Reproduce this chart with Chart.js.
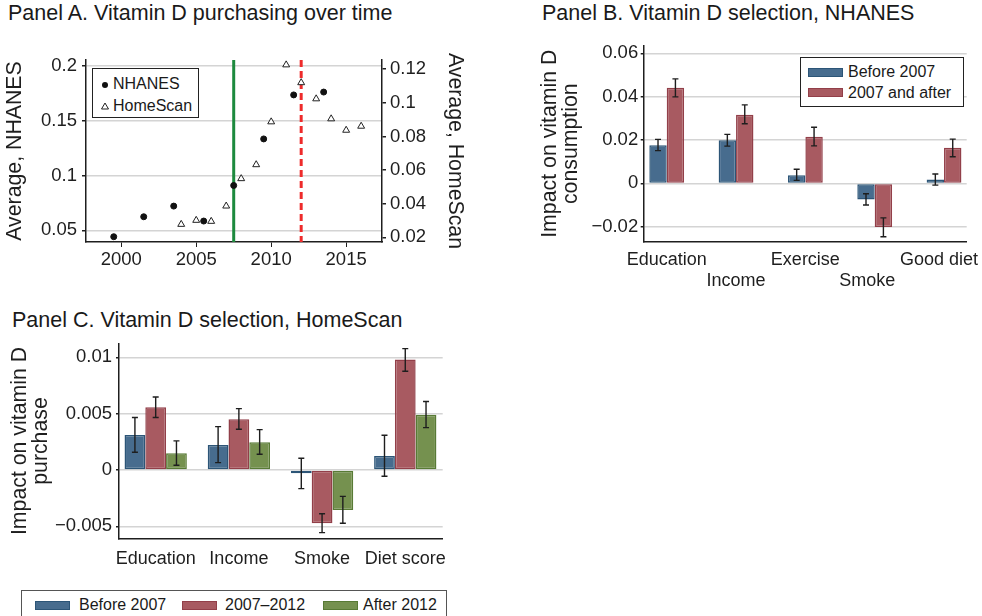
<!DOCTYPE html>
<html>
<head>
<meta charset="utf-8">
<script src="https://cdn.jsdelivr.net/npm/chart.js@4.4.1/dist/chart.umd.min.js"></script>
<style>
  body { margin: 0; background: #fff; font-family: "Liberation Sans", Arial, sans-serif; color: #1a1a1a; }
  #page { position: relative; width: 982px; height: 616px; overflow: hidden; }
  canvas { position: absolute; }
  .ptitle { position: absolute; font-size: 21.5px; line-height: 21.5px; white-space: nowrap; }
  .lgd { position: absolute; background: #fff; font-size: 16px; white-space: nowrap; }
  .lgd .item { position: absolute; line-height: 16px; }
  .lgd .sw { position: absolute; box-sizing: border-box; border: 1.5px solid; }
</style>
</head>
<body>
<div id="page">
  <div class="ptitle" style="left:8px;top:3px;">Panel A. Vitamin D purchasing over time</div>
  <div class="ptitle" style="left:542px;top:3px;">Panel B. Vitamin D selection, NHANES</div>
  <div class="ptitle" style="left:12px;top:310px;">Panel C. Vitamin D selection, HomeScan</div>
  <canvas id="chartA" width="470" height="265" style="left:0;top:30px"></canvas>
  <canvas id="chartB" width="452" height="265" style="left:530px;top:30px"></canvas>
  <canvas id="chartC" width="470" height="250" style="left:0;top:330px"></canvas>
  <div id="legendA" class="lgd" style="left:92px;top:68px;width:107px;height:50px;border:1.5px solid #222;box-sizing:border-box;"></div>
  <div id="legendB" class="lgd" style="left:800px;top:57px;width:164px;height:50px;border:1.5px solid #222;box-sizing:border-box;"></div>
  <div id="legendC" class="lgd" style="left:21px;top:590px;width:426px;height:40px;border:1px solid #555;box-sizing:border-box;"></div>
</div>
<script>
// Panel A: yearly averages
const yearsNhanes = [1999.5, 2001.5, 2003.5, 2005.5, 2007.5, 2009.5, 2011.5, 2013.5];
const avgNhanes = [0.0442, 0.0624, 0.0721, 0.0585, 0.0909, 0.1333, 0.1734, 0.1760];
const yearsHomescan = [2004, 2005, 2006, 2007, 2008, 2009, 2010, 2011, 2012, 2013, 2014, 2015, 2016];
const avgHomescan = [0.0277, 0.0301, 0.0295, 0.0386, 0.0549, 0.0632, 0.0887, 0.1226, 0.1120, 0.1024, 0.0905, 0.0837, 0.0861];
const seriesA = ['NHANES', 'HomeScan'];
const breakYears = [2007.5, 2012];
const xTicksA = [2000, 2005, 2010, 2015];
const yTicksA = [0.05, 0.1, 0.15, 0.2];
const y2TicksA = [0.02, 0.04, 0.06, 0.08, 0.1, 0.12];

// Panel B: NHANES selection
const catsB = ['Education', 'Income', 'Exercise', 'Smoke\u00a0\u00a0\u00a0', 'Good diet\u00a0\u00a0'];
const seriesB = ['Before 2007', '2007 and after'];
const beforeB = [0.0176, 0.0199, 0.0037, -0.0074, 0.0018];
const beforeBLo = [0.0151, 0.0172, 0.0014, -0.0100, -0.0008];
const beforeBHi = [0.0203, 0.0226, 0.0065, -0.0048, 0.0043];
const afterB = [0.0441, 0.0316, 0.0215, -0.0201, 0.0164];
const afterBLo = [0.0399, 0.0275, 0.0173, -0.0246, 0.0123];
const afterBHi = [0.0482, 0.0362, 0.0259, -0.0159, 0.0204];
const yTicksB = [-0.02, 0, 0.02, 0.04, 0.06];

// Panel C: HomeScan selection
const catsC = ['Education', 'Income', 'Smoke', 'Diet score'];
const seriesC = ['Before 2007', '2007\u20132012', 'After 2012'];
const beforeC = [0.00311, 0.00222, -0.00030, 0.00124];
const beforeCLo = [0.00157, 0.00065, -0.00166, -0.00056];
const beforeCHi = [0.00465, 0.00385, 0.00104, 0.00308];
const midC = [0.00557, 0.00450, -0.00473, 0.00980];
const midCLo = [0.00465, 0.00361, -0.00556, 0.00876];
const midCHi = [0.00648, 0.00544, -0.00388, 0.01077];
const afterC = [0.00148, 0.00246, -0.00355, 0.00491];
const afterCLo = [0.00042, 0.00139, -0.00473, 0.00376];
const afterCHi = [0.00258, 0.00358, -0.00234, 0.00607];
const yTicksC = [-0.005, 0, 0.005, 0.01];

const BLUE = { fill: '#476c8e', line: '#2c5577' };
const RED = { fill: '#a85a61', line: '#923f49' };
const GREEN = { fill: '#75914f', line: '#587a35' };
const INK = '#1e1e1e';
const GRID = '#d4d4d4';
const FONT = '"Liberation Sans", Arial, sans-serif';

Chart.defaults.font.family = FONT;
Chart.defaults.color = INK;

function fmtNum(v) {
  if (v === 0) return '0';
  return v < 0 ? '\u2212' + String(Math.abs(v)) : String(v);
}

function fixTicks(list) {
  return s => { s.ticks = list.map(v => ({ value: v })); };
}

function fixWidth(w) {
  return s => { s.width = w; s.paddingTop = 0; s.paddingBottom = 0; };
}

function fixHeight(h) {
  return s => { s.height = h; s.paddingLeft = 0; s.paddingRight = 0; };
}

const errorBars = {
  id: 'errorBars',
  afterDatasetsDraw(chart) {
    const ctx = chart.ctx;
    chart.data.datasets.forEach((ds, di) => {
      if (!ds.errLo) return;
      const meta = chart.getDatasetMeta(di);
      const ys = chart.scales[meta.yAxisID];
      ctx.save();
      ctx.strokeStyle = INK;
      ctx.lineWidth = 1.4;
      meta.data.forEach((bar, i) => {
        const x = bar.x;
        const a = ys.getPixelForValue(ds.errLo[i]);
        const b = ys.getPixelForValue(ds.errHi[i]);
        ctx.beginPath();
        ctx.moveTo(x, a); ctx.lineTo(x, b);
        ctx.moveTo(x - 3, a); ctx.lineTo(x + 3, a);
        ctx.moveTo(x - 3, b); ctx.lineTo(x + 3, b);
        ctx.stroke();
      });
      ctx.restore();
    });
  }
};

const breakLines = {
  id: 'breakLines',
  beforeDatasetsDraw(chart) {
    const { ctx, chartArea, scales } = chart;
    const styles = [{ color: '#1d8a3e', dash: [] }, { color: '#ee2b2b', dash: [7, 4] }];
    breakYears.forEach((yr, i) => {
      const x = scales.x.getPixelForValue(yr);
      ctx.save();
      ctx.strokeStyle = styles[i].color;
      ctx.lineWidth = 3;
      ctx.setLineDash(styles[i].dash);
      ctx.beginPath();
      ctx.moveTo(x, chartArea.top);
      ctx.lineTo(x, chartArea.bottom);
      ctx.stroke();
      ctx.restore();
    });
  }
};

function valueAxis(opts) {
  return {
    position: opts.position || 'left',
    min: opts.min, max: opts.max,
    afterBuildTicks: fixTicks(opts.ticks),
    afterFit: fixWidth(opts.width),
    grid: {
      color: GRID, lineWidth: 1.5, tickColor: INK, tickLength: opts.tickLength || 4,
      drawOnChartArea: opts.grid !== false
    },
    border: { display: true, color: INK, width: 1.5 },
    ticks: { font: { size: 18.5 }, padding: opts.pad, callback: v => fmtNum(v) },
    title: opts.title ? {
      display: true, text: opts.title,
      font: { size: 21.3, lineHeight: opts.titleLH || 1.2 },
      padding: { top: opts.titlePad, bottom: 0 }
    } : { display: false }
  };
}

function categoryAxis(opts) {
  return {
    type: 'linear', offset: false,
    min: opts.min, max: opts.max,
    afterBuildTicks: fixTicks(opts.cats.map((c, i) => i)),
    afterFit: fixHeight(opts.height),
    grid: { display: false, drawTicks: false, offset: false },
    border: { display: true, color: INK, width: 1.5 },
    ticks: {
      autoSkip: false, maxRotation: 0, minRotation: 0,
      font: { size: 18, lineHeight: '21px' }, padding: opts.pad,
      callback: v => (opts.stagger && v % 2 === 1) ? ['', opts.cats[v]] : opts.cats[v]
    }
  };
}

function barSet(label, col, vals, lo, hi) {
  return {
    label: label,
    data: vals.map((v, i) => ({ x: i, y: v })),
    errLo: lo, errHi: hi,
    backgroundColor: col.fill, borderColor: col.line,
    borderWidth: 1.5, borderSkipped: false
  };
}

const baseOpts = {
  responsive: false, animation: false, devicePixelRatio: 1,
  plugins: { legend: { display: false }, tooltip: { enabled: false }, title: { display: false } }
};

new Chart(document.getElementById('chartA'), {
  type: 'scatter',
  data: {
    datasets: [
      {
        label: seriesA[0], yAxisID: 'y',
        data: yearsNhanes.map((x, i) => ({ x: x, y: avgNhanes[i] })),
        pointStyle: 'circle', pointRadius: 3, backgroundColor: '#111', borderColor: '#111', borderWidth: 1
      },
      {
        label: seriesA[1], yAxisID: 'y1',
        data: yearsHomescan.map((x, i) => ({ x: x, y: avgHomescan[i] })),
        pointStyle: 'triangle', pointRadius: 4, backgroundColor: '#fff', borderColor: '#222', borderWidth: 1
      }
    ]
  },
  options: {
    ...baseOpts,
    layout: { padding: { top: 30, left: 0, right: 0, bottom: 0 } },
    scales: {
      x: {
        type: 'linear', position: 'bottom', min: 1997.65, max: 2017.39,
        afterBuildTicks: fixTicks(xTicksA),
        afterFit: fixHeight(53),
        grid: { drawOnChartArea: false, tickLength: 5, tickColor: INK },
        border: { display: true, color: INK, width: 1.5 },
        ticks: { autoSkip: false, maxRotation: 0, font: { size: 18.5 }, padding: 2, callback: v => String(v) }
      },
      y: valueAxis({ min: 0.0394, max: 0.2052, ticks: yTicksA, width: 86, pad: 5, title: 'Average, NHANES', titlePad: 2.5 }),
      y1: valueAxis({ position: 'right', min: 0.0172, max: 0.1255, ticks: y2TicksA, width: 88, pad: 4, grid: false, title: 'Average, HomeScan', titlePad: 2.5 })
    }
  },
  plugins: [breakLines]
});

new Chart(document.getElementById('chartB'), {
  type: 'bar',
  data: {
    datasets: [
      barSet(seriesB[0], BLUE, beforeB, beforeBLo, beforeBHi),
      barSet(seriesB[1], RED, afterB, afterBLo, afterBHi)
    ]
  },
  options: {
    ...baseOpts,
    categoryPercentage: 0.502, barPercentage: 1,
    layout: { padding: { top: 15.7, right: 15.3, left: 0, bottom: 0 } },
    scales: {
      x: categoryAxis({ cats: catsB, min: -0.332, max: 4.327, height: 53.3, pad: 7.5, stagger: true }),
      y: valueAxis({ min: -0.0269, max: 0.0635, ticks: yTicksB, width: 113.7, pad: 2.5, tickLength: 3,
        title: ['Impact on vitamin D', 'consumption'], titleLH: '21px', titlePad: 9.9 })
    }
  },
  plugins: [errorBars]
});

new Chart(document.getElementById('chartC'), {
  type: 'bar',
  data: {
    datasets: [
      barSet(seriesC[0], BLUE, beforeC, beforeCLo, beforeCHi),
      barSet(seriesC[1], RED, midC, midCLo, midCHi),
      barSet(seriesC[2], GREEN, afterC, afterCLo, afterCHi)
    ]
  },
  options: {
    ...baseOpts,
    categoryPercentage: 0.749, barPercentage: 1,
    layout: { padding: { top: 13.3, right: 27.3, left: 0, bottom: 0 } },
    scales: {
      x: categoryAxis({ cats: catsC, min: -0.441, max: 3.45, height: 41.3, pad: 9.7 }),
      y: valueAxis({ min: -0.0061, max: 0.01124, ticks: yTicksC, width: 119, pad: 4, tickLength: 3,
        title: ['Impact on vitamin D', 'purchase'], titleLH: '21px', titlePad: 9.9 })
    }
  },
  plugins: [errorBars]
});

// legends
function addItem(host, left, top, html) {
  const d = document.createElement('div');
  d.className = 'item';
  d.style.left = left + 'px';
  d.style.top = top + 'px';
  d.innerHTML = html;
  host.appendChild(d);
}
function addSwatch(host, left, top, col) {
  const s = document.createElement('div');
  s.className = 'sw';
  s.style.cssText = `left:${left}px;top:${top}px;width:35px;height:9px;background:${col.fill};border-color:${col.line};`;
  host.appendChild(s);
}

const lgA = document.getElementById('legendA');
addItem(lgA, 6, 7, '<svg width="12" height="12" style="vertical-align:middle"><circle cx="6" cy="6" r="3" fill="#111"/></svg>');
addItem(lgA, 20, 7, seriesA[0]);
addItem(lgA, 6, 29, '<svg width="12" height="12" style="vertical-align:middle"><polygon points="6,2 9.5,8 2.5,8" fill="#fff" stroke="#222" stroke-width="1"/></svg>');
addItem(lgA, 20, 29, seriesA[1]);

const lgB = document.getElementById('legendB');
[BLUE, RED].forEach((c, i) => {
  addSwatch(lgB, 7, 9.5 + i * 20.7, c);
  addItem(lgB, 47, 6 + i * 20.7, seriesB[i]);
});

const lgC = document.getElementById('legendC');
const swLeftC = [13, 160, 301];
const txLeftC = [57, 203, 341];
[BLUE, RED, GREEN].forEach((c, i) => {
  addSwatch(lgC, swLeftC[i], 9.5, c);
  addItem(lgC, txLeftC[i], 6, seriesC[i]);
});
</script>
</body>
</html>
